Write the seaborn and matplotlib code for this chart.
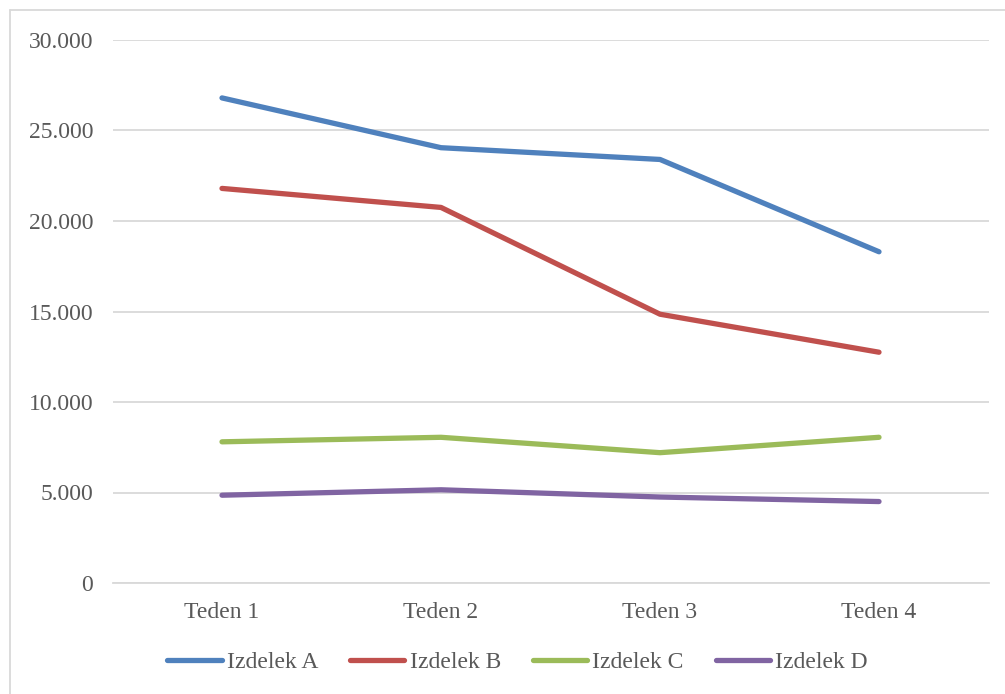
import matplotlib
matplotlib.use("Agg")
import matplotlib.pyplot as plt
from matplotlib.lines import Line2D
from matplotlib.ticker import FuncFormatter
import pandas as pd
import seaborn as sns

weeks = ["Teden 1", "Teden 2", "Teden 3", "Teden 4"]
products = ["Izdelek A", "Izdelek B", "Izdelek C", "Izdelek D"]
izdelek_a = [26800, 24050, 23400, 18300]
izdelek_b = [21800, 20750, 14850, 12750]
izdelek_c = [7800, 8050, 7200, 8050]
izdelek_d = [4850, 5150, 4750, 4500]
colors = ["#4F81BD", "#C0504D", "#9BBB59", "#8064A2"]

rows = []
for name, vals in zip(products, [izdelek_a, izdelek_b, izdelek_c, izdelek_d]):
    for i, (w, v) in enumerate(zip(weeks, vals)):
        rows.append({"pos": i, "Teden": w, "Izdelek": name, "Vrednost": v})
df = pd.DataFrame(rows)

sns.set_style("white")
plt.rcParams["font.family"] = ["Liberation Serif", "DejaVu Serif"]

W, H = 1005, 694
FS = 17
fig = plt.figure(figsize=(W / 100, H / 100), dpi=100)
ax = fig.add_axes([112.5 / W, (H - 583) / H, (988.5 - 112.5) / W, (583 - 40) / H])

sns.lineplot(data=df, x="pos", y="Vrednost", hue="Izdelek", palette=colors,
             hue_order=products, linewidth=3.8, sort=False, ax=ax,
             legend=False, solid_capstyle="round", solid_joinstyle="round")

ax.set_xlim(-0.5, 3.5)
ax.set_ylim(0, 30000)
ax.set_yticks(range(0, 30001, 5000))
ax.yaxis.set_major_formatter(FuncFormatter(lambda v, p: f"{int(v):,}".replace(",", ".")))
ax.set_xticks(range(len(weeks)))
ax.set_xticklabels(weeks)
ax.set_xlabel("")
ax.set_ylabel("")
ax.grid(axis="y", color="#D9D9D9", linewidth=1.3)
ax.set_axisbelow(True)
for s in ["top", "right", "left"]:
    ax.spines[s].set_visible(False)
ax.spines["bottom"].set_color("#D9D9D9")
ax.spines["bottom"].set_linewidth(1.3)
ax.tick_params(axis="both", length=0, labelsize=FS, colors="#595959")
ax.tick_params(axis="y", pad=14)
ax.tick_params(axis="x", pad=14)

handles = [Line2D([], [], color=c, linewidth=3.8, solid_capstyle="round") for c in colors]
leg = fig.legend(handles, products, loc="center", ncol=4,
                 bbox_to_anchor=(0.5 + 15 / W, (H - 662) / H), frameon=False,
                 fontsize=FS, handlelength=2.3, handletextpad=0.22,
                 columnspacing=1.35)
for t in leg.get_texts():
    t.set_color("#595959")

# chart frame
fig.add_artist(Line2D([10 / W, 1.0], [1 - 10 / H, 1 - 10 / H], color="#D9D9D9", linewidth=1.3))
fig.add_artist(Line2D([10 / W, 10 / W], [0, 1 - 10 / H], color="#D9D9D9", linewidth=1.3))

fig.savefig("out.png", dpi=100)
